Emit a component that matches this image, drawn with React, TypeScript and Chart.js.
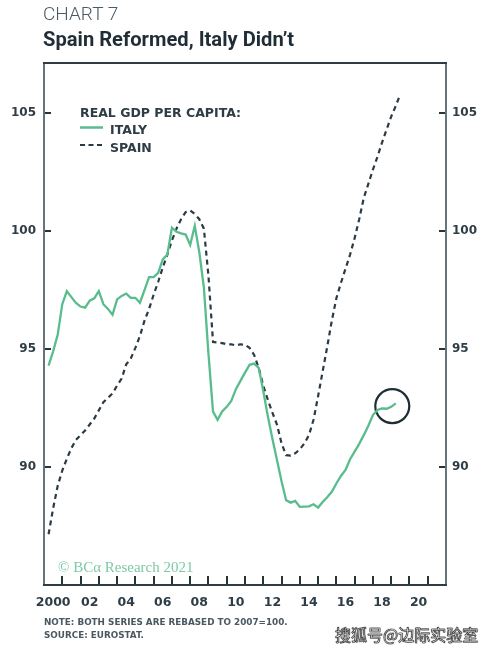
import React, { useEffect, useRef } from "react";
import { Chart, registerables } from "chart.js";

Chart.register(...registerables);

// ---- data ----
const startYear = 2000;
const quarterCount = 78; // 2000Q1 .. 2019Q2
const quarters: string[] = [];
for (let i = 0; i < quarterCount; i++) {
  quarters.push(`${startYear + Math.floor(i / 4)}Q${(i % 4) + 1}`);
}

// Italy, real GDP per capita (2007=100)
const italy = [
  94.3, 94.9, 95.6, 96.9, 97.45, 97.2, 96.95, 96.8,
  96.75, 97.05, 97.15, 97.45, 96.9, 96.7, 96.45, 97.1,
  97.25, 97.35, 97.17, 97.17, 96.96, 97.5, 98.05, 98.05,
  98.23, 98.8, 99.0, 100.14, 99.97, 99.9, 99.85, 99.41,
  100.22, 99.1, 97.6, 94.8, 92.35, 92.0, 92.35, 92.55,
  92.8, 93.3, 93.65, 94.0, 94.33, 94.38, 94.2, 93.22,
  92.15, 91.2, 90.3, 89.4, 88.59, 88.49, 88.56, 88.31,
  88.32, 88.33, 88.42, 88.28, 88.52, 88.72, 88.95, 89.3,
  89.62, 89.88, 90.33, 90.65, 90.98, 91.35, 91.75, 92.2,
  92.42, 92.48, 92.47, 92.55, 92.7,
];

// Spain, real GDP per capita (2007=100)
const spain = [
  87.15, 88.25, 89.2, 89.85, 90.35, 90.8, 91.15, 91.35,
  91.55, 91.8, 92.05, 92.4, 92.75, 92.93, 93.12, 93.45,
  93.75, 94.35, 94.6, 95.05, 95.55, 96.2, 96.7, 97.3,
  97.85, 98.45, 99.0, 99.6, 100.1, 100.5, 100.8, 100.87,
  100.72, 100.5, 100.1, 98.1, 95.3, 95.28, 95.25, 95.2,
  95.2, 95.15, 95.2, 95.18, 95.05, 94.75, 94.2, 93.45,
  92.85, 92.3, 91.8, 91.0, 90.5, 90.48, 90.58, 90.75,
  91.0, 91.35, 92.0, 93.0, 94.05, 95.1, 96.2, 97.15,
  97.8, 98.4, 99.0, 99.7, 100.5, 101.4, 102.0, 102.6,
  103.15, 103.75, 104.3, 104.85, 105.3, 105.8,
];

const xLabelYears = [2000, 2002, 2004, 2006, 2008, 2010, 2012, 2014, 2016, 2018, 2020];
const xTickLabels = ["2000", "02", "04", "06", "08", "10", "12", "14", "16", "18", "20"];
const yTickValues = [90, 95, 100, 105];
const yTickLabels = ["90", "95", "100", "105"];
const xTickMarkYears = [2001, 2002, 2003, 2004, 2005, 2006, 2007, 2008, 2009, 2010, 2011, 2012, 2013, 2014, 2015, 2016, 2017, 2018, 2019, 2020, 2021];
const highlight = [{ x: 2019.06, y: 92.58 }];

const quarterToX = (q: string) => Number(q.slice(0, 4)) + Number(q.slice(5)) / 4;

const GREEN = "#58bc8d";
const DARK = "#2b3a43";
const AXIS_TEXT = "#2f3d46";

const framePlugin = {
  id: "frameTicks",
  afterDatasetsDraw(chart: any) {
    const { ctx, chartArea: a, scales } = chart;
    const xs = scales.x;
    const ys = scales.y;
    ctx.save();
    // inward tick marks
    ctx.strokeStyle = "#26343c";
    ctx.lineWidth = 2;
    ctx.beginPath();
    xTickMarkYears.forEach((yr) => {
      const px = Math.round(xs.getPixelForValue(yr));
      ctx.moveTo(px, a.bottom);
      ctx.lineTo(px, a.bottom - 9);
    });
    yTickValues.forEach((v) => {
      const py = Math.round(ys.getPixelForValue(v));
      ctx.moveTo(a.left, py);
      ctx.lineTo(a.left + 7, py);
      ctx.moveTo(a.right, py);
      ctx.lineTo(a.right - 7, py);
    });
    ctx.stroke();
    // frame
    ctx.lineWidth = 2;
    ctx.strokeStyle = "#64737c";
    ctx.beginPath();
    ctx.moveTo(a.left, a.top);
    ctx.lineTo(a.left, a.bottom);
    ctx.moveTo(a.right, a.top);
    ctx.lineTo(a.right, a.bottom);
    ctx.stroke();
    ctx.strokeStyle = "#2e3d45";
    ctx.lineWidth = 2.2;
    ctx.beginPath();
    ctx.moveTo(a.left - 1, a.top);
    ctx.lineTo(a.right + 1, a.top);
    ctx.moveTo(a.left - 1, a.bottom);
    ctx.lineTo(a.right + 1, a.bottom);
    ctx.stroke();
    ctx.restore();
  },
};

export default function App() {
  const canvasRef = useRef<HTMLCanvasElement | null>(null);

  useEffect(() => {
    if (!canvasRef.current) return;
    const xFont = { family: "'DejaVu Sans', sans-serif", size: 12.5, weight: "bold" as const };
    const yFont = { family: "'DejaVu Sans', sans-serif", size: 12, weight: "bold" as const };
    const yAxisCommon = {
      type: "linear" as const,
      min: 85,
      max: 107.12,
      grid: { display: false, drawTicks: false },
      border: { display: false },
      afterBuildTicks: (s: any) => {
        s.ticks = yTickValues.map((v) => ({ value: v }));
      },
    };
    const chart = new Chart(canvasRef.current, {
      type: "line",
      data: {
        datasets: [
          {
            label: "ITALY",
            data: italy.map((v, i) => ({ x: quarterToX(quarters[i]), y: v })),
            borderColor: GREEN,
            borderWidth: 2.3,
            pointRadius: 0,
            fill: false,
            tension: 0,
            yAxisID: "y",
          },
          {
            label: "SPAIN",
            data: spain.map((v, i) => ({ x: quarterToX(quarters[i]), y: v })),
            borderColor: DARK,
            borderWidth: 2.2,
            borderDash: [5, 4],
            pointRadius: 0,
            fill: false,
            tension: 0,
            yAxisID: "y",
          },
          {
            type: "scatter",
            label: "highlight",
            data: highlight,
            showLine: false,
            pointRadius: 17,
            pointBorderWidth: 2.2,
            pointBorderColor: "#1f2d34",
            pointBackgroundColor: "rgba(0,0,0,0)",
            yAxisID: "y",
          } as any,
        ],
      },
      options: {
        responsive: false,
        animation: false,
        devicePixelRatio: 1,
        layout: { padding: { top: 63, bottom: 36, left: 0, right: 0 } },
        plugins: { legend: { display: false }, tooltip: { enabled: false } },
        scales: {
          x: {
            type: "linear",
            min: 2000,
            max: 2022,
            grid: { display: false, drawTicks: false },
            border: { display: false },
            afterBuildTicks: (s: any) => {
              s.ticks = xLabelYears.map((v) => ({ value: v + 0.5 }));
            },
            afterFit: (s: any) => {
              s.height = 30;
            },
            ticks: {
              autoSkip: false,
              maxRotation: 0,
              padding: 10,
              color: AXIS_TEXT,
              font: xFont,
              callback: (_v: any, i: number) => xTickLabels[i],
            },
          },
          y: {
            ...yAxisCommon,
            position: "left",
            afterFit: (s: any) => {
              s.width = 44;
            },
            ticks: {
              padding: 8,
              color: AXIS_TEXT,
              font: yFont,
              callback: (_v: any, i: number) => yTickLabels[i],
            },
          },
          y2: {
            ...yAxisCommon,
            position: "right",
            afterFit: (s: any) => {
              s.width = 42;
            },
            ticks: {
              padding: 6,
              color: AXIS_TEXT,
              font: yFont,
              callback: (_v: any, i: number) => yTickLabels[i],
            },
          },
        },
      } as any,
      plugins: [framePlugin],
    });
    return () => chart.destroy();
  }, []);

  const legendText: React.CSSProperties = {
    position: "absolute",
    fontFamily: "'DejaVu Sans', sans-serif",
    fontWeight: "bold",
    fontSize: 12.5,
    lineHeight: "16px",
    color: "#2d3c45",
    whiteSpace: "nowrap",
  };

  return (
    <div
      style={{
        position: "fixed",
        left: 0,
        top: 0,
        width: 488,
        height: 651,
        background: "#ffffff",
        overflow: "hidden",
      }}
    >
      <canvas ref={canvasRef} width={488} height={651} style={{ position: "absolute", left: 0, top: 0 }} />
      <div
        style={{
          position: "absolute",
          left: 43,
          top: 2,
          fontFamily: "Roboto, sans-serif",
          fontWeight: 300,
          fontSize: 19,
          lineHeight: "24px",
          color: "#4b5b66",
          whiteSpace: "nowrap",
        }}
      >
        CHART 7
      </div>
      <div
        style={{
          position: "absolute",
          left: 43,
          top: 26,
          fontFamily: "Roboto, sans-serif",
          fontWeight: 700,
          fontSize: 21,
          lineHeight: "26px",
          color: "#1f2d36",
          whiteSpace: "nowrap",
          transform: "scaleX(0.96)",
          transformOrigin: "left top",
        }}
      >
        Spain Reformed, Italy Didn’t
      </div>
      {/* legend */}
      <div style={{ ...legendText, left: 80, top: 105 }}>REAL GDP PER CAPITA:</div>
      <svg style={{ position: "absolute", left: 80, top: 122 }} width={26} height={30}>
        <line x1={0} y1={5.5} x2={23} y2={5.5} stroke={GREEN} strokeWidth={2.5} />
        <line x1={0} y1={23} x2={23} y2={23} stroke={DARK} strokeWidth={2.2} strokeDasharray="5 3.5" />
      </svg>
      <div style={{ ...legendText, left: 110, top: 122 }}>ITALY</div>
      <div style={{ ...legendText, left: 110, top: 140 }}>SPAIN</div>
      {/* watermark */}
      <div
        style={{
          position: "absolute",
          left: 58,
          top: 558,
          fontFamily: "'Liberation Serif', 'DejaVu Serif', serif",
          fontSize: 15,
          lineHeight: "18px",
          color: "#7dcaa5",
          whiteSpace: "nowrap",
        }}
      >
        © BCα Research 2021
      </div>
      {/* notes */}
      <div
        style={{
          position: "absolute",
          left: 44,
          top: 616,
          fontFamily: "'DejaVu Sans', sans-serif",
          fontWeight: "bold",
          fontSize: 8.8,
          lineHeight: "13px",
          color: "#4a5862",
          whiteSpace: "nowrap",
        }}
      >
        <div>NOTE: BOTH SERIES ARE REBASED TO 2007=100.</div>
        <div>SOURCE: EUROSTAT.</div>
      </div>
      <div
        style={{
          position: "absolute",
          left: 335,
          top: 623,
          fontFamily: "'Noto Sans CJK SC', sans-serif",
          fontSize: 16,
          lineHeight: "22px",
          color: "#ffffff",
          WebkitTextStroke: "0.6px #333",
          textShadow: "0 0 1px #222, 0 0 1px #222",
          whiteSpace: "nowrap",
        }}
      >
        搜狐号@边际实验室
      </div>
    </div>
  );
}
